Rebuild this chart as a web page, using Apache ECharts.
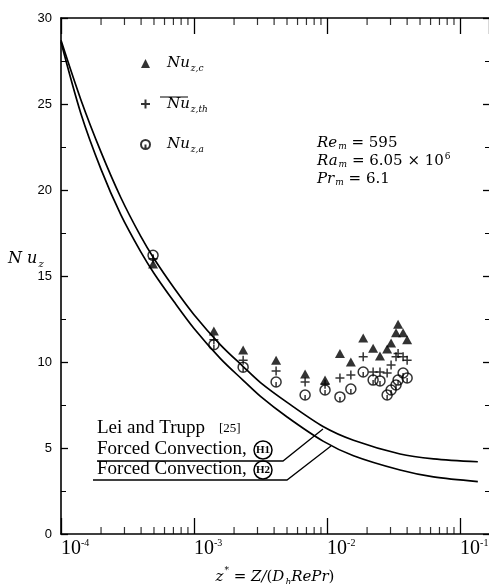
<!DOCTYPE html>
<html><head><meta charset="utf-8">
<script src="https://cdn.jsdelivr.net/npm/echarts@6/dist/echarts.min.js"></script>
<style>html,body{margin:0;padding:0;background:#fff}#c{width:489px;height:584px}</style>
</head><body><div id="c"></div><script>
// ---- data ----
const zStar = [4.92e-4, 1.41e-3, 2.34e-3, 4.14e-3, 6.84e-3, 9.66e-3, 1.25e-2, 1.51e-2, 1.87e-2, 2.22e-2, 2.50e-2, 2.83e-2, 3.03e-2, 3.30e-2, 3.42e-2, 3.73e-2, 4.00e-2];
const nuC  = [15.7, 11.8, 10.7, 10.1, 9.3, 8.95, 10.5, 10.0, 11.4, 10.8, 10.35, 10.76, 11.1, 11.7, 12.2, 11.7, 11.3];
const nuTh = [16.0, 11.3, 10.1, 9.48, 8.84, 8.7, 9.07, 9.24, 10.3, 9.42, 9.42, 9.36, 9.83, 10.3, 10.5, 10.3, 10.1];
const nuA  = [16.2, 11.0, 9.7, 8.84, 8.08, 8.37, 7.97, 8.43, 9.42, 8.95, 8.9, 8.08, 8.37, 8.66, 8.95, 9.36, 9.07];

// Lei and Trupp forced-convection curves (H1 upper, H2 lower)
const curveX = [1e-4, 1.41e-4, 2.0e-4, 2.82e-4, 3.98e-4, 5.01e-4, 7.08e-4, 1e-3, 1.58e-3, 2.33e-3, 3.16e-3, 5.01e-3, 9.33e-3, 1.58e-2, 3.54e-2, 6.31e-2, 0.136];
const h1Nu = [28.7, 25.25, 22.2, 19.55, 17.3, 16.0, 14.3, 12.75, 11.0, 9.75, 8.8, 7.65, 6.25, 5.45, 4.65, 4.37, 4.2];
const h2Nu = [28.6, 24.45, 21.2, 18.55, 16.4, 15.15, 13.5, 11.95, 10.2, 8.95, 8.0, 6.8, 5.4, 4.55, 3.72, 3.32, 3.05];

const xMinorTicks = [2e-4,3e-4,4e-4,5e-4,6e-4,7e-4,8e-4,9e-4, 2e-3,3e-3,4e-3,5e-3,6e-3,7e-3,8e-3,9e-3, 2e-2,3e-2,4e-2,5e-2,6e-2,7e-2,8e-2,9e-2];
const yTickLabels = [0, 5, 10, 15, 20, 25, 30];

// ---- styles ----
const mfont = 'DejaVu Serif';
function mathRich(sz, lhOverride) {
  const lh = lhOverride || Math.round(sz * 1.45);
  return {
    i: {fontFamily: mfont, fontStyle: 'italic', fontSize: sz, color: '#000', lineHeight: lh, verticalAlign: 'middle'},
    s: {fontFamily: mfont, fontStyle: 'italic', fontSize: Math.round(sz * 0.62), color: '#000', lineHeight: lh, verticalAlign: 'bottom', padding: [0, 0, 1, 1]},
    r: {fontFamily: mfont, fontSize: sz, color: '#000', lineHeight: lh, verticalAlign: 'middle'},
    p: {fontFamily: mfont, fontSize: Math.round(sz * 0.62), color: '#000', lineHeight: lh, verticalAlign: 'top', padding: [0, 0, 0, 1]},
    g: {width: 12}
  };
}
const legendText = {
  'Nu_z,c': '{g|}{i|Nu}{s|z,c}',
  'Nu_z,th': '{g|}{i|Nu}{s|z,th}',
  'Nu_z,a': '{g|}{i|Nu}{s|z,a}'
};
const plusPath = 'path://M5,0L5,10M0,5L10,5';
const circPath = 'path://M10,5A5,5,0,1,1,0,5A5,5,0,1,1,10,5ZM5,5L5,10';

const xMin = 1e-4, xMax = 0.165;
function xLabel(v) {
  const e = Math.round(Math.log10(v));
  if (Math.abs(Math.log10(v) - e) > 1e-6 || e > -1 || e < -4) return '';
  return '{b|10}{p|' + e + '}';
}
const axisLine = {show: true, onZero: false, lineStyle: {color: '#000', width: 1.6}};
const roman = '19px "Liberation Serif"';

const chart = echarts.init(document.getElementById('c'));
chart.setOption({
  backgroundColor: '#fff',
  animation: false,
  grid: {left: 61, right: 0, top: 18, bottom: 50, outerBoundsMode: 'none'},
  xAxis: [
    {type: 'log', logBase: 10, min: xMin, max: xMax, position: 'bottom',
     axisLine: axisLine, splitLine: {show: false},
     axisTick: {inside: true, length: 16, lineStyle: {color: '#000', width: 1.3}},
     axisLabel: {formatter: xLabel, align: 'left', margin: 4, showMaxLabel: false,
       rich: {
         b: {fontFamily: 'Liberation Serif', fontSize: 20, color: '#000', lineHeight: 21, verticalAlign: 'bottom'},
         p: {fontFamily: 'Liberation Serif', fontSize: 10, color: '#000', lineHeight: 21, verticalAlign: 'top'}
       }},
     name: '{i|z}{p|*}{r| = }{i|Z/}{r|(}{i|D}{s|h}{i|RePr}{r|)}',
     nameLocation: 'middle', nameGap: 32,
     nameTextStyle: {rich: mathRich(15)}
    },
    {type: 'log', logBase: 10, min: xMin, max: xMax, position: 'top',
     axisLine: axisLine, splitLine: {show: false},
     axisTick: {inside: true, length: 16, lineStyle: {color: '#000', width: 1.3}},
     axisLabel: {show: false}}
  ],
  yAxis: [
    {type: 'value', min: 0, max: 30, interval: 5, position: 'left',
     axisLine: axisLine, splitLine: {show: false},
     axisTick: {inside: true, length: 7, lineStyle: {color: '#000', width: 1.3}},
     minorTick: {show: true, splitNumber: 2, length: 5, lineStyle: {color: '#000', width: 1}},
     axisLabel: {fontFamily: 'Liberation Sans', fontSize: 13, color: '#000', margin: 9,
       formatter: v => yTickLabels.includes(v) ? String(v) : ''}},
    {type: 'value', min: 0, max: 30, interval: 5, position: 'right',
     axisLine: {show: false, onZero: false}, splitLine: {show: false},
     axisTick: {show: true, inside: true, length: 6, lineStyle: {color: '#000', width: 1.3}},
     minorTick: {show: true, splitNumber: 2, length: 4, lineStyle: {color: '#000', width: 1}},
     axisLabel: {show: false}}
  ],
  legend: {
    orient: 'vertical', left: 135, top: 51, itemWidth: 9, itemHeight: 9, itemGap: 22,
    data: ['Nu_z,c', 'Nu_z,th', 'Nu_z,a'],
    formatter: n => legendText[n],
    textStyle: {rich: mathRich(15)}
  },
  series: [
    {name: 'H1', type: 'line', data: curveX.map((x, i) => [x, h1Nu[i]]), smooth: 0.3, symbol: 'none',
     lineStyle: {color: '#000', width: 1.7}, silent: true},
    {name: 'H2', type: 'line', data: curveX.map((x, i) => [x, h2Nu[i]]), smooth: 0.3, symbol: 'none',
     lineStyle: {color: '#000', width: 1.7}, silent: true},
    {name: 'Nu_z,c', type: 'scatter', data: zStar.map((x, i) => [x, nuC[i]]),
     symbol: 'triangle', symbolSize: [10, 9], itemStyle: {color: '#000'}},
    {name: 'Nu_z,th', type: 'scatter', data: zStar.map((x, i) => [x, nuTh[i]]),
     symbol: plusPath, symbolSize: 9, itemStyle: {color: 'transparent', borderColor: '#000', borderWidth: 1.5}},
    {name: 'Nu_z,a', type: 'scatter', data: zStar.map((x, i) => [x, nuA[i]]),
     symbol: circPath, symbolSize: 10, itemStyle: {color: 'transparent', borderColor: '#000', borderWidth: 1.5}},
    {name: 'minorBottom', type: 'scatter', data: xMinorTicks.map(x => [x, 0]), clip: false, silent: true,
     symbol: 'rect', symbolSize: [1.2, 7], symbolOffset: [0, -3.5], itemStyle: {color: '#000'}},
    {name: 'minorTop', type: 'scatter', data: xMinorTicks.map(x => [x, 30]), clip: false, silent: true,
     symbol: 'rect', symbolSize: [1.2, 7], symbolOffset: [0, 3.5], itemStyle: {color: '#000'}}
  ],
  graphic: [
    {type: 'text', left: 8, top: 251, style: {text: '{i|N u}{s|z}', rich: mathRich(16)}},
    {type: 'text', left: 317, top: 136, style: {
      text: '{i|Re}{s|m}{r| = 595}\n{i|Ra}{s|m}{r| = 6.05 × 10}{p|6}\n{i|Pr}{s|m}{r| = 6.1}',
      rich: mathRich(15, 18)}},
    {type: 'line', shape: {x1: 160, y1: 97, x2: 188, y2: 97}, style: {stroke: '#000', lineWidth: 1}},
    {type: 'text', left: 97, top: 419, style: {text: 'Lei and Trupp', font: roman, fill: '#000'}},
    {type: 'text', left: 219, top: 422, style: {text: '[25]', font: '13px "Liberation Serif"', fill: '#000'}},
    {type: 'text', left: 97, top: 440, style: {text: 'Forced Convection,', font: roman, fill: '#000'}},
    {type: 'text', left: 97, top: 460, style: {text: 'Forced Convection,', font: roman, fill: '#000'}},
    {type: 'circle', shape: {cx: 263, cy: 450, r: 9}, style: {fill: 'none', stroke: '#000', lineWidth: 1.5}},
    {type: 'text', x: 263, y: 450, style: {text: 'H1', font: 'bold 11px "Liberation Serif"', fill: '#000', align: 'center', verticalAlign: 'middle'}},
    {type: 'circle', shape: {cx: 263, cy: 470, r: 9}, style: {fill: 'none', stroke: '#000', lineWidth: 1.5}},
    {type: 'text', x: 263, y: 470, style: {text: 'H2', font: 'bold 11px "Liberation Serif"', fill: '#000', align: 'center', verticalAlign: 'middle'}},
    {type: 'polyline', shape: {points: [[97, 461], [283, 461], [323, 429]]}, style: {fill: 'none', stroke: '#000', lineWidth: 1.3}},
    {type: 'polyline', shape: {points: [[93, 480], [287, 480], [331, 446]]}, style: {fill: 'none', stroke: '#000', lineWidth: 1.3}}
  ]
});
</script></body></html>
